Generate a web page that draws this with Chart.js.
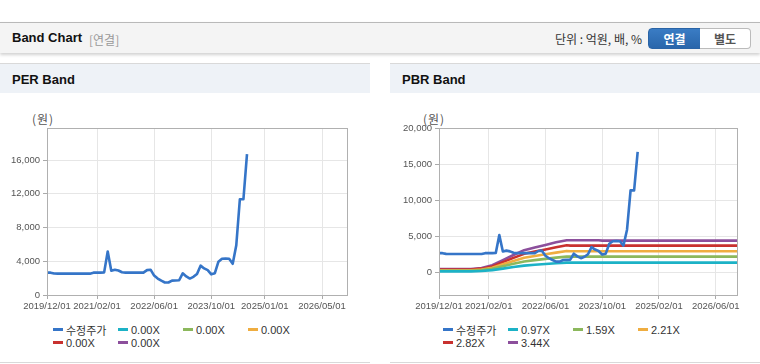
<!DOCTYPE html>
<html><head><meta charset="utf-8">
<script src="https://cdn.jsdelivr.net/npm/chart.js@4.4.1/dist/chart.umd.min.js"></script>
<style>
html,body{margin:0;padding:0;background:#fff;}
body{width:760px;height:364px;overflow:hidden;position:relative;font-family:"Liberation Sans","Noto Sans CJK KR",sans-serif;color:#333;}
#hdr{position:absolute;left:0;top:22px;width:760px;height:30px;background:#f4f4f4;border-top:1px solid #b9b9b9;box-shadow:0 2px 3px rgba(0,0,0,0.18);}
#hdr .t{position:absolute;left:12px;top:7px;font-weight:bold;font-size:13px;color:#111;}
#hdr .s{position:absolute;left:89px;top:8px;font-size:12px;color:#999;font-family:"Noto Sans CJK KR",sans-serif;}
#hdr .u{position:absolute;right:118px;top:7px;font-size:12px;color:#333;font-family:"Noto Sans CJK KR",sans-serif;}
.btn{position:absolute;top:5px;height:19px;font-size:12px;font-weight:bold;text-align:center;line-height:19px;font-family:"Noto Sans CJK KR",sans-serif;}
#b1{left:648px;width:51px;background:linear-gradient(#3a7cc4,#2966ab);color:#fff;border:1px solid #2a64a6;border-radius:4px 0 0 4px;}
#b2{left:700px;width:50px;background:#fff;color:#555;border:1px solid #bbb;border-left:none;border-radius:0 4px 4px 0;}
.panel{position:absolute;top:63px;width:370px;height:298px;border-top:1px solid #d9d9d9;border-bottom:1px solid #d9d9d9;background:#fff;}
.ph{position:absolute;left:0;top:0;width:100%;height:29px;background:#eef2f7;}
.ph span{position:absolute;left:12px;top:8px;font-weight:bold;font-size:13px;color:#111;}
canvas{position:absolute;}
.unit{position:absolute;font-size:12px;color:#555;font-family:"Noto Sans CJK KR",sans-serif;letter-spacing:1px;}
.leg{position:absolute;display:grid;grid-template-columns:65px 65px 65px 65px;row-gap:0px;}
.li{height:13px;display:flex;align-items:center;font-size:11px;color:#333;white-space:nowrap;}
.li i{display:inline-block;width:10px;height:3px;margin-right:3px;}
</style></head>
<body>
<div id="hdr"><span class="t">Band Chart</span><span class="s">[연결]</span><span class="u">단위 : 억원, 배, %</span>
<div class="btn" id="b1">연결</div><div class="btn" id="b2">별도</div></div>
<div class="panel" style="left:0"><div class="ph"><span>PER Band</span></div></div>
<div class="panel" style="left:390px"><div class="ph"><span>PBR Band</span></div></div>
<div class="unit" style="left:32px;top:110px">(원)</div>
<div class="unit" style="left:423px;top:110px">(원)</div>
<canvas id="per" width="370" height="215" style="left:0;top:100px"></canvas>
<canvas id="pbr" width="370" height="215" style="left:390px;top:100px"></canvas>
<div class="leg" id="legPer" style="left:53px;top:323px"></div>
<div class="leg" id="legPbr" style="left:443px;top:323px"></div>
<script>
// ---- data ----
const priceDates = ['2019/12/01','2020/01/01','2020/02/01','2020/03/01','2020/04/01','2020/05/01','2020/06/01','2020/07/01','2020/08/01','2020/09/01','2020/10/01','2020/11/01','2020/12/01',
'2021/01/01','2021/02/01','2021/03/01','2021/04/01','2021/05/01','2021/06/01','2021/07/01','2021/08/01','2021/09/01','2021/10/01','2021/11/01','2021/12/01',
'2022/01/01','2022/02/01','2022/03/01','2022/04/01','2022/05/01','2022/06/01','2022/07/01','2022/08/01','2022/09/01','2022/10/01','2022/11/01','2022/12/01',
'2023/01/01','2023/02/01','2023/03/01','2023/04/01','2023/05/01','2023/06/01','2023/07/01','2023/08/01','2023/09/01','2023/10/01','2023/11/01','2023/12/01',
'2024/01/01','2024/02/01','2024/03/01','2024/04/01','2024/05/01','2024/06/01','2024/07/01','2024/08/01'];
const priceValues = [2650,2650,2550,2530,2530,2530,2530,2530,2530,2530,2530,2530,2530,
2650,2650,2650,2680,5150,2880,3000,2900,2700,2650,2650,2650,
2650,2650,2650,2950,3000,2300,1950,1700,1480,1480,1700,1720,
1750,2570,2200,1950,2150,2500,3480,3150,2950,2450,2580,3950,
4300,4320,4300,3700,5900,11350,11350,16700];

const bandDates = ['2019/12/01','2020/03/01','2020/06/01','2020/09/01','2020/12/01','2021/03/01','2021/06/01','2021/09/01','2021/12/01','2022/03/01','2022/06/01','2022/09/01','2022/12/01','2023/01/01','2023/09/01','2023/10/01','2026/12/01'];
const pbr097 = [130,130,130,130,180,295,510,725,925,1040,1145,1255,1340,1340,1340,1340,1340];
const pbr159 = [215,215,215,215,295,480,825,1170,1500,1680,1855,2030,2170,2170,2170,2170,2170];
const pbr221 = [290,290,290,290,395,640,1105,1570,2010,2255,2490,2720,2960,2910,2910,2910,2910];
const pbr282 = [370,370,370,370,500,815,1405,2000,2555,2870,3165,3460,3750,3700,3700,3700,3700];
const pbr344 = [450,450,450,450,600,975,1685,2400,3065,3440,3795,4150,4440,4440,4440,4390,4390];
const perBand = [[],[],[],[],[]];

const perLabels = ['수정주가','0.00X','0.00X','0.00X','0.00X','0.00X'];
const pbrLabels = ['수정주가','0.97X','1.59X','2.21X','2.82X','3.44X'];
const perXTicks = ['2019/12/01','2021/02/01','2022/06/01','2023/10/01','2025/01/01','2026/05/01'];
const pbrXTicks = ['2019/12/01','2021/02/01','2022/06/01','2023/10/01','2025/02/01','2026/06/01'];
const perYTicks = [0,4000,8000,12000,16000];
const pbrYTicks = [0,5000,10000,15000,20000];

const colors = ['#3575c8','#1cb2c6','#8cb85c','#efad40','#c8312f','#8c4f9c'];

// ---- helpers ----
function toM(s){const p=s.split('/').map(Number);return (p[0]-2019)*12+(p[1]-12)+(p[2]-1)/30;}
function pts(dates,vals){return vals.map((v,i)=>({x:toM(dates[i]),y:v}));}

const boxPlugin={id:'box',afterDraw(c){const a=c.chartArea,ctx=c.ctx;ctx.save();ctx.strokeStyle='#b0b0b0';ctx.lineWidth=1;
ctx.strokeRect(Math.round(a.left)+0.5,Math.round(a.top)+0.5,Math.round(a.right)-Math.round(a.left),Math.round(a.bottom)-Math.round(a.top));ctx.restore();}};

Chart.defaults.font.family='"Liberation Sans",sans-serif';
Chart.defaults.font.size=9.5;
Chart.defaults.color='#555';

function makeChart(id,labels,bands,xTicks,yTicks,ymin,ymax,yW){
  const ds=[{label:labels[0],data:pts(priceDates,priceValues),borderColor:colors[0],borderWidth:2.6,order:0}];
  bands.forEach((b,i)=>ds.push({label:labels[i+1],data:b.length?pts(bandDates,b):[],borderColor:colors[i+1],borderWidth:2.6,order:1}));
  return new Chart(document.getElementById(id),{
    type:'line',
    data:{datasets:ds},
    plugins:[boxPlugin],
    options:{responsive:false,animation:false,devicePixelRatio:1,
      layout:{padding:{top:28,right:23,left:0,bottom:0}},
      elements:{point:{radius:0},line:{tension:0,borderJoinStyle:'round'}},
      plugins:{legend:{display:false},tooltip:{enabled:false}},
      scales:{
        x:{type:'linear',min:0,max:84,
          afterBuildTicks:s=>{s.ticks=xTicks.map(d=>({value:toM(d)}));},
          afterFit:s=>{s.height=20;},
          ticks:{autoSkip:false,maxRotation:0,padding:2,callback:(v,i)=>xTicks[i]},
          grid:{color:'#e6e6e6',tickLength:4,tickColor:'#aaa'},border:{display:false}},
        y:{min:ymin,max:ymax,
          afterBuildTicks:s=>{s.ticks=yTicks.map(v=>({value:v}));},
          afterFit:s=>{s.width=yW;},
          ticks:{padding:3,callback:v=>v.toLocaleString('en-US')},
          grid:{color:'#e6e6e6',tickLength:4,tickColor:'#aaa'},border:{display:false}}
      }}
  });
}
makeChart('per',perLabels,perBand,perXTicks,perYTicks,0,19800,47);
makeChart('pbr',pbrLabels,[pbr097,pbr159,pbr221,pbr282,pbr344],pbrXTicks,pbrYTicks,-3150,20000,49);

function legend(id,labels){const el=document.getElementById(id);
  labels.forEach((l,i)=>{const d=document.createElement('div');d.className='li';
    d.innerHTML='<i style="background:'+colors[i]+'"></i>';const t=document.createElement('span');t.textContent=l;d.appendChild(t);el.appendChild(d);});}
legend('legPer',perLabels);legend('legPbr',pbrLabels);
</script>
</body></html>
